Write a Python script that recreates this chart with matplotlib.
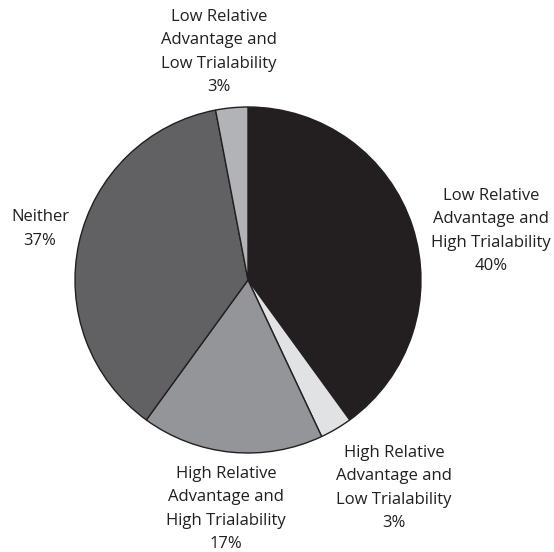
import matplotlib.pyplot as plt

labels = [
    "Low Relative\nAdvantage and\nHigh Trialability",
    "High Relative\nAdvantage and\nLow Trialability",
    "High Relative\nAdvantage and\nHigh Trialability",
    "Neither",
    "Low Relative\nAdvantage and\nLow Trialability",
]
shares = [40, 3, 17, 37, 3]
colors = ["#231f20", "#e1e2e3", "#939598", "#616163", "#b1b3b6"]

# label anchor points in pixel space (x, y from top)
label_pos = [(491, 231), (394, 488), (226, 509), (40, 229), (219, 52)]

W, H = 554, 552
fig = plt.figure(figsize=(W / 100, H / 100), dpi=100)
ax = fig.add_axes([0, 0, 1, 1])

ax.pie(shares, colors=colors, startangle=90, counterclock=False,
       center=(248, H - 280), radius=173,
       wedgeprops=dict(edgecolor="#231f20", linewidth=1.0))

# pie() resets the limits, so put the pixel frame back afterwards
ax.set_xlim(0, W)
ax.set_ylim(0, H)
ax.set_aspect("equal")
ax.axis("off")

for lab, val, (x, y) in zip(labels, shares, label_pos):
    ax.text(x, H - y, f"{lab}\n{val}%", ha="center", va="center",
            fontsize=12, family="Open Sans", color="#231f20",
            linespacing=1.6)

fig.savefig("out.png", dpi=100)
